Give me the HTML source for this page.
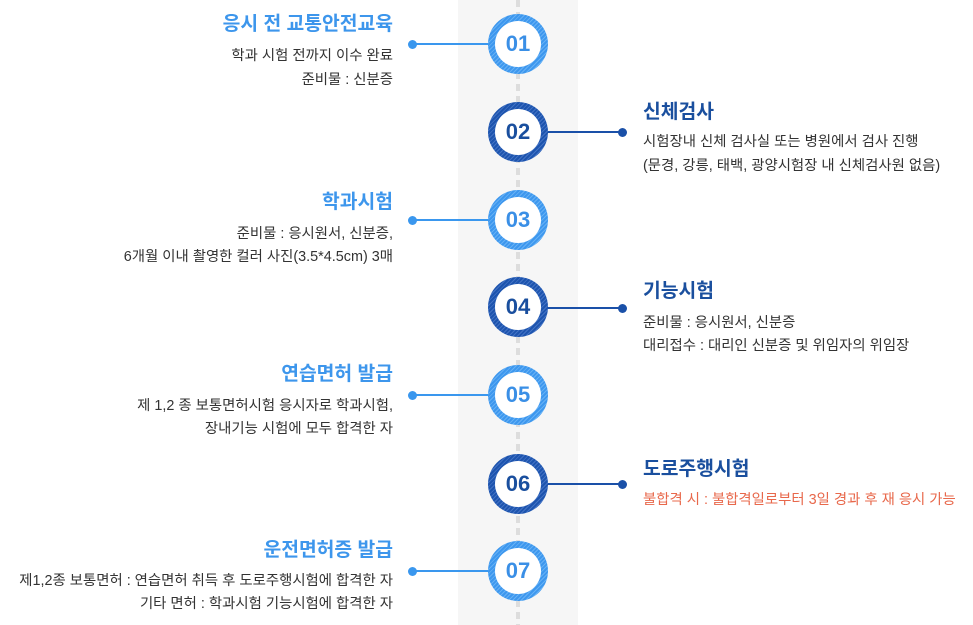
<!DOCTYPE html>
<html>
<head>
<meta charset="utf-8">
<style>
  html,body{margin:0;padding:0;}
  body{width:973px;height:625px;position:relative;overflow:hidden;background:#fff;
    font-family:"Liberation Sans","Noto Sans CJK KR",sans-serif;}
  .band{position:absolute;left:458px;top:0;width:120px;height:625px;background:#f6f6f6;}
  .dash{position:absolute;left:516px;top:0;width:4px;height:625px;
    background:repeating-linear-gradient(to bottom,#dddddd 0 7px,transparent 7px 12px);}
  .line{position:absolute;height:2px;}
  .dot{position:absolute;width:9px;height:9px;border-radius:50%;}
  .c{position:absolute;width:60px;height:60px;border-radius:50%;left:488px;}
  .c .in{position:absolute;left:7px;top:7px;width:46px;height:46px;border-radius:50%;background:#fff;
    text-align:center;line-height:46px;font-weight:bold;font-size:22px;}
  .lc{background:repeating-linear-gradient(135deg,#3d97ee 0 2px,#66b1f5 2px 3px);}
  .lc .in{color:#3a8fe6;}
  .dc{background:repeating-linear-gradient(135deg,#1d54ae 0 2px,#4272c4 2px 3px);}
  .dc .in{color:#1a4f9e;}
  .lt{position:absolute;right:580px;text-align:right;white-space:nowrap;}
  .rt{position:absolute;left:643px;white-space:nowrap;}
  .t{font-size:19.3px;font-weight:bold;line-height:24px;height:24px;}
  .b{font-size:14.4px;line-height:24px;height:24px;color:#333;}
  .tl{color:#3d96ec;}
  .td{color:#1a4f9e;}
  .red{color:#e8684b;}
</style>
</head>
<body>
<div class="band"></div>
<div class="dash"></div>

<!-- connectors -->
<div class="line" style="left:413px;width:90px;top:43px;background:#3a97ee;"></div>
<div class="dot" style="left:408px;top:39.5px;background:#3a97ee;"></div>

<div class="line" style="left:533px;width:90px;top:131px;background:#1a50a8;"></div>
<div class="dot" style="left:618px;top:127.5px;background:#1a50a8;"></div>

<div class="line" style="left:413px;width:90px;top:219px;background:#3a97ee;"></div>
<div class="dot" style="left:408px;top:215.5px;background:#3a97ee;"></div>

<div class="line" style="left:533px;width:90px;top:307px;background:#1a50a8;"></div>
<div class="dot" style="left:618px;top:303.5px;background:#1a50a8;"></div>

<div class="line" style="left:413px;width:90px;top:394px;background:#3a97ee;"></div>
<div class="dot" style="left:408px;top:390.5px;background:#3a97ee;"></div>

<div class="line" style="left:533px;width:90px;top:483px;background:#1a50a8;"></div>
<div class="dot" style="left:618px;top:479.5px;background:#1a50a8;"></div>

<div class="line" style="left:413px;width:90px;top:570px;background:#3a97ee;"></div>
<div class="dot" style="left:408px;top:566.5px;background:#3a97ee;"></div>

<!-- circles -->
<div class="c lc" style="top:14px;"><div class="in">01</div></div>
<div class="c dc" style="top:102px;"><div class="in">02</div></div>
<div class="c lc" style="top:190px;"><div class="in">03</div></div>
<div class="c dc" style="top:277px;"><div class="in">04</div></div>
<div class="c lc" style="top:365px;"><div class="in">05</div></div>
<div class="c dc" style="top:454px;"><div class="in">06</div></div>
<div class="c lc" style="top:541px;"><div class="in">07</div></div>

<!-- 01 -->
<div class="lt t tl" style="top:13px;">응시 전 교통안전교육</div>
<div class="lt b" style="top:44px;">학과 시험 전까지 이수 완료</div>
<div class="lt b" style="top:68px;">준비물 : 신분증</div>

<!-- 02 -->
<div class="rt t td" style="top:101px;">신체검사</div>
<div class="rt b" style="top:130px;">시험장내 신체 검사실 또는 병원에서 검사 진행</div>
<div class="rt b" style="top:154px;">(문경, 강릉, 태백, 광양시험장 내 신체검사원 없음)</div>

<!-- 03 -->
<div class="lt t tl" style="top:191px;">학과시험</div>
<div class="lt b" style="top:222px;">준비물 : 응시원서, 신분증,</div>
<div class="lt b" style="top:245px;">6개월 이내 촬영한 컬러 사진(3.5*4.5cm) 3매</div>

<!-- 04 -->
<div class="rt t td" style="top:280px;">기능시험</div>
<div class="rt b" style="top:311px;">준비물 : 응시원서, 신분증</div>
<div class="rt b" style="top:334px;">대리접수 : 대리인 신분증 및 위임자의 위임장</div>

<!-- 05 -->
<div class="lt t tl" style="top:363px;">연습면허 발급</div>
<div class="lt b" style="top:394px;">제 1,2 종 보통면허시험 응시자로 학과시험,</div>
<div class="lt b" style="top:417px;">장내기능 시험에 모두 합격한 자</div>

<!-- 06 -->
<div class="rt t td" style="top:458px;">도로주행시험</div>
<div class="rt b red" style="top:488px;">불합격 시 : 불합격일로부터 3일 경과 후 재 응시 가능</div>

<!-- 07 -->
<div class="lt t tl" style="top:539px;">운전면허증 발급</div>
<div class="lt b" style="top:569px;">제1,2종 보통면허 : 연습면허 취득 후 도로주행시험에 합격한 자</div>
<div class="lt b" style="top:592px;">기타 면허 : 학과시험 기능시험에 합격한 자</div>

</body>
</html>
